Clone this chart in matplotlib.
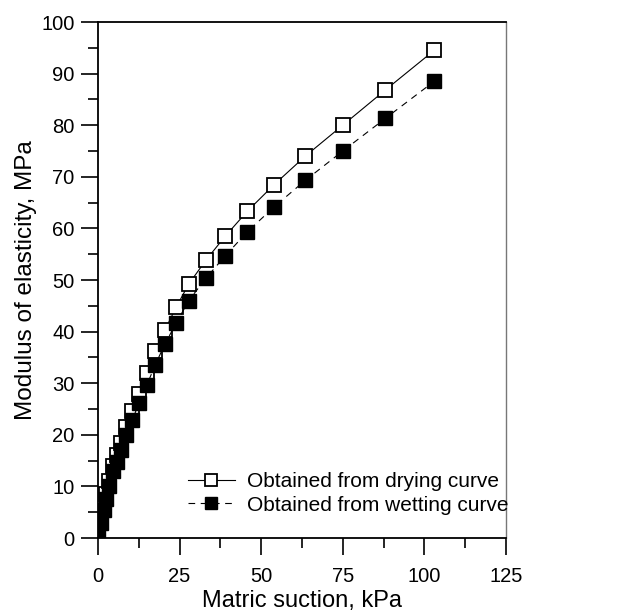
import matplotlib.pyplot as plt
from matplotlib.ticker import MultipleLocator

plt.rcParams['font.family'] = ['Liberation Sans', 'DejaVu Sans']

# matric suction (kPa)
suction = [0, 1, 1.8, 2.5, 3.5, 4.5, 5.7, 7, 8.5, 10.5, 12.5, 15, 17.5,
           20.5, 24, 27.8, 33, 39, 45.7, 54, 63.5, 75, 88, 103]
# modulus of elasticity (MPa)
drying = [2, 4, 6.5, 8.5, 11, 14, 16, 18.5, 21.5, 24.7, 28, 32, 36.2,
          40.3, 44.8, 49.2, 53.8, 58.5, 63.3, 68.5, 74, 80, 86.8, 94.5]
wetting = [1.5, 3, 5.5, 7.5, 10, 13, 14.8, 17, 20, 22.8, 26.1, 29.7, 33.5,
           37.6, 41.7, 46, 50.3, 54.7, 59.3, 64.2, 69.3, 75, 81.3, 88.5]

fig = plt.figure(figsize=(6.34, 6.11), dpi=100)
ax = fig.add_axes([98/634, 73/611, 408/634, 516/611])

ax.plot(suction, drying, '-', color='black', lw=0.8, marker='s', ms=10,
        mfc='white', mec='black', mew=1.3, label='Obtained from drying curve')
ax.plot(suction, wetting, '--', color='black', lw=0.8, dashes=(6, 5), marker='s', ms=10,
        mfc='black', mec='black', label='Obtained from wetting curve')

ax.set_xlim(0, 125)
ax.set_ylim(0, 100)
ax.xaxis.set_major_locator(MultipleLocator(25))
ax.xaxis.set_minor_locator(MultipleLocator(12.5))
ax.yaxis.set_major_locator(MultipleLocator(10))
ax.yaxis.set_minor_locator(MultipleLocator(5))
ax.tick_params(which='major', direction='out', length=12, width=1.2, labelsize=14.5)
ax.tick_params(which='minor', direction='out', length=7, width=1.2)
ax.tick_params(axis='y', which='major', pad=5)
ax.tick_params(axis='x', which='major', pad=9)
for s in ['left', 'bottom', 'top']:
    ax.spines[s].set_linewidth(1.3)
ax.spines['right'].set_linewidth(1.0)
ax.spines['right'].set_color('#777777')

ax.set_xlabel('Matric suction, kPa', fontsize=17, labelpad=3)
ax.set_ylabel('Modulus of elasticity, MPa', fontsize=17.5, labelpad=3)

ax.legend(loc='upper left', bbox_to_anchor=(0.22, 0.127), frameon=False,
          fontsize=15, handlelength=2.25, handletextpad=0.6, markerscale=0.85,
          labelspacing=0.2, borderpad=0, borderaxespad=0)

fig.savefig('out.png', dpi=100)
